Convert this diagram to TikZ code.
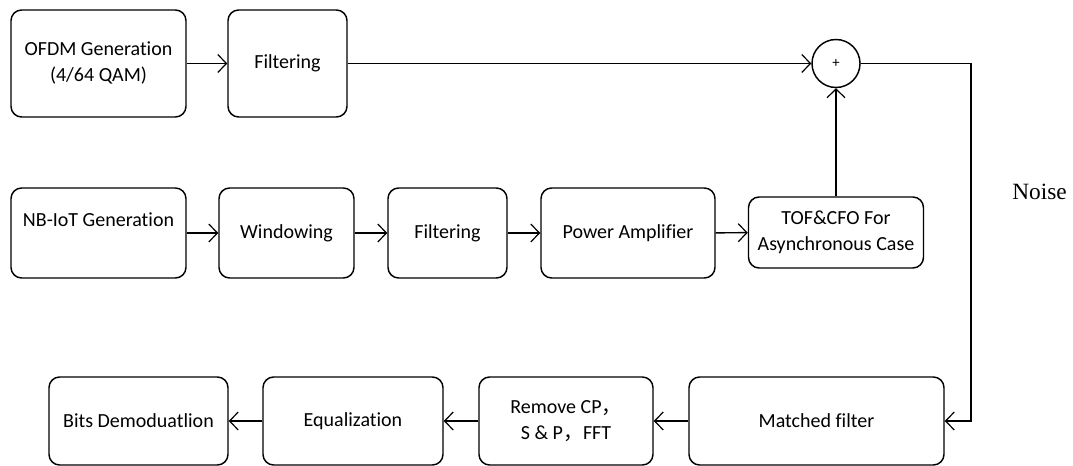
\documentclass[tikz,border=0pt]{standalone}
\usepackage{fontspec}
\setmainfont{Carlito}[Ligatures=NoCommon]
\newfontfamily\noisefont{Liberation Serif}
\newfontfamily\cjk{Noto Sans CJK SC}
\usetikzlibrary{arrows.meta}

\begin{document}
\begin{tikzpicture}[x=0.75pt,y=0.75pt,yscale=-1,xscale=1,
  blockbox/.style={draw, line width=1.1pt, rounded corners=8pt, align=center, inner sep=0pt, font=\fontsize{15}{19.5}\selectfont},
  sumnode/.style={draw, circle, line width=1.1pt, minimum size=36pt, inner sep=0pt, font=\fontsize{11}{12}\selectfont},
  flow/.style={line width=1.1pt, -{Straight Barb[length=6.5pt,width=13.5pt,line width=0.9pt]}}]
\useasboundingbox (0,0) rectangle (1073,466);

% Text Node
\node [blockbox, minimum width=131.25pt, minimum height=80.25pt] (ofdm) at (98.5,63.5) {OFDM Generation\\(4/64 QAM)};
% Text Node
\node [blockbox, minimum width=89.25pt, minimum height=80.25pt] (filtA) at (287.5,63.5) {Filtering};
% Text Node
\node [sumnode] (adder) at (836,63.5) {+};

% Text Node
\node [blockbox, minimum width=131.25pt, minimum height=67.5pt] (nbiot) at (98.5,233) {NB-IoT Generation\\ ~};
% Text Node
\node [blockbox, minimum width=101.25pt, minimum height=67.5pt] (window) at (286.5,233) {Windowing};
% Text Node
\node [blockbox, minimum width=89.25pt, minimum height=67.5pt] (filtB) at (447.5,233) {Filtering};
% Text Node
\node [blockbox, minimum width=130.5pt, minimum height=67.5pt] (pa) at (628,233) {Power Amplifier};
% Text Node
\node [blockbox, minimum width=131.25pt, minimum height=53.25pt] (tofcfo) at (836,232.5) {TOF\&CFO For\\Asynchronous Case};

% Text Node
\node [font=\noisefont\fontsize{17.5}{20}\selectfont] (noise) at (1039.5,192) {Noise};

% Text Node
\node [blockbox, minimum width=134.25pt, minimum height=66pt] (bits) at (138.5,421) {Bits Demoduatlion};
% Text Node
\node [blockbox, minimum width=135pt, minimum height=66pt] (equal) at (353,421) {Equalization};
% Text Node
\node [blockbox, minimum width=130.5pt, minimum height=66pt] (rmcp) at (566,421) {Remove CP{\cjk ，}\\S \& P{\cjk ，}FFT};
% Text Node
\node [blockbox, minimum width=191.25pt, minimum height=66pt] (match) at (816.5,421) {Matched filter};

\coordinate (turn) at (971,63.5);

%Straight Lines
\draw [flow] (ofdm) -- (filtA);
\draw [flow] (filtA) -- (adder);
\draw [flow] (tofcfo) -- (adder);
\draw [flow] (adder) -- (turn) |- (match);
%Straight Lines
\draw [flow] (nbiot) -- (window);
\draw [flow] (window) -- (filtB);
\draw [flow] (filtB) -- (pa);
\draw [flow] (pa) -- (tofcfo);
%Straight Lines
\draw [flow] (match) -- (rmcp);
\draw [flow] (rmcp) -- (equal);
\draw [flow] (equal) -- (bits);

\end{tikzpicture}
\end{document}
